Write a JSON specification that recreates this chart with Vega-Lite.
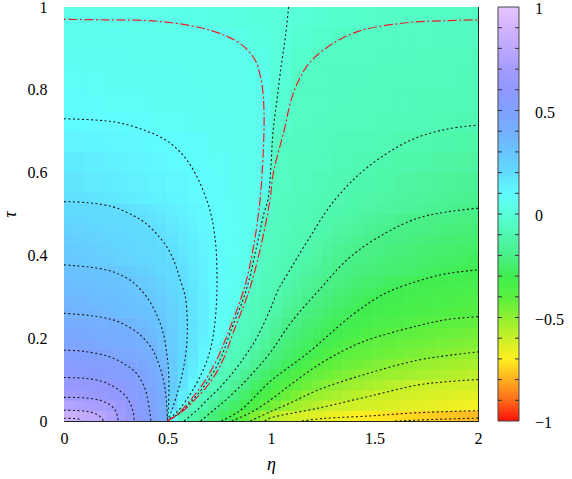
{
"$schema": "https://vega.github.io/schema/vega-lite/v6.json",
"autosize": {"type": "none"},
"padding": {"left": 64, "top": 7, "right": 94, "bottom": 58},
"width": 414, "height": 414,
"config": {
  "font": "Liberation Serif",
  "view": {"stroke": null},
  "axis": {"domainColor": "#222", "domainWidth": 1, "tickColor": "#222", "tickWidth": 1, "labelFont": "Liberation Serif", "labelFontSize": 16, "labelColor": "#000", "titleFont": "Liberation Serif", "titleFontSize": 18, "titleFontWeight": "normal", "titleFontStyle": "italic", "titleColor": "#000", "grid": false, "labelOverlap": false, "labelFlush": false}
},
"layer": [
 {
  "layer": [
    {
      "data": {"values": "x,y,v\n0.05,0.575,0.172\n0.15,0.575,0.16\n0.25,0.575,0.148\n0.35,0.575,0.136\n0.45,0.575,0.124\n0.55,0.575,0.112\n0.65,0.575,0.1\n0.75,0.575,0.084\n0.85,0.575,0.067\n0.95,0.575,0.05\n1.05,0.575,-0.056\n1.15,0.575,-0.069\n1.25,0.575,-0.082\n1.35,0.575,-0.095\n1.45,0.575,-0.107\n1.55,0.575,-0.118\n1.65,0.575,-0.13\n1.75,0.575,-0.141\n1.85,0.575,-0.153\n1.95,0.575,-0.164\n0.05,0.625,0.149\n0.15,0.625,0.14\n0.25,0.625,0.131\n0.35,0.625,0.122\n0.45,0.625,0.113\n0.55,0.625,0.104\n0.65,0.625,0.093\n0.75,0.625,0.079\n0.85,0.625,0.065\n0.95,0.625,0.051\n1.05,0.625,-0.053\n1.15,0.625,-0.063\n1.25,0.625,-0.073\n1.35,0.625,-0.084\n1.45,0.625,-0.094\n1.55,0.625,-0.104\n1.65,0.625,-0.113\n1.75,0.625,-0.122\n1.85,0.625,-0.131\n1.95,0.625,-0.14\n0.05,0.675,0.125\n0.15,0.675,0.12\n0.25,0.675,0.114\n0.35,0.675,0.108\n0.45,0.675,0.103\n0.55,0.675,0.095\n0.65,0.675,0.084\n0.75,0.675,0.073\n0.85,0.675,0.062\n0.95,0.675,0.052\n1.05,0.675,-0.05\n1.15,0.675,-0.058\n1.25,0.675,-0.066\n1.35,0.675,-0.074\n1.45,0.675,-0.083\n1.55,0.675,-0.091\n1.65,0.675,-0.099\n1.75,0.675,-0.105\n1.85,0.675,-0.111\n1.95,0.675,-0.117\n0.05,0.725,0.102\n0.15,0.725,0.1\n0.25,0.725,0.096\n0.35,0.725,0.09\n0.45,0.725,0.083\n0.55,0.725,0.077\n0.65,0.725,0.07\n0.75,0.725,0.064\n0.85,0.725,0.057\n0.95,0.725,0.051\n1.05,0.725,-0.029\n1.15,0.725,-0.054\n1.25,0.725,-0.059\n1.35,0.725,-0.064\n1.45,0.725,-0.069\n1.55,0.725,-0.074\n1.65,0.725,-0.08\n1.75,0.725,-0.085\n1.85,0.725,-0.09\n1.95,0.725,-0.095\n0.05,0.775,0.089\n0.15,0.775,0.085\n0.25,0.775,0.08\n0.35,0.775,0.076\n0.45,0.775,0.072\n0.55,0.775,0.068\n0.65,0.775,0.063\n0.75,0.775,0.059\n0.85,0.775,0.055\n0.95,0.775,0.051\n1.05,0.775,-0.015\n1.15,0.775,-0.052\n1.25,0.775,-0.056\n1.35,0.775,-0.061\n1.45,0.775,-0.065\n1.55,0.775,-0.069\n1.65,0.775,-0.073\n1.75,0.775,-0.077\n1.85,0.775,-0.082\n1.95,0.775,-0.086\n0.05,0.825,0.078\n0.15,0.825,0.075\n0.25,0.825,0.072\n0.35,0.825,0.069\n0.45,0.825,0.066\n0.55,0.825,0.063\n0.65,0.825,0.059\n0.75,0.825,0.056\n0.85,0.825,0.053\n0.95,0.825,0.05\n1.05,0.825,-0.005\n1.15,0.825,-0.05\n1.25,0.825,-0.054\n1.35,0.825,-0.057\n1.45,0.825,-0.06\n1.55,0.825,-0.063\n1.65,0.825,-0.067\n1.75,0.825,-0.07\n1.85,0.825,-0.073\n1.95,0.825,-0.077\n0.05,0.875,0.069\n0.15,0.875,0.067\n0.25,0.875,0.065\n0.35,0.875,0.062\n0.45,0.875,0.06\n0.55,0.875,0.058\n0.65,0.875,0.056\n0.75,0.875,0.054\n0.85,0.875,0.052\n0.95,0.875,0.039\n1.05,0.875,0.002\n1.15,0.875,-0.031\n1.25,0.875,-0.051\n1.35,0.875,-0.053\n1.45,0.875,-0.056\n1.55,0.875,-0.058\n1.65,0.875,-0.06\n1.75,0.875,-0.063\n1.85,0.875,-0.065\n1.95,0.875,-0.068\n0.05,0.925,0.058\n0.15,0.925,0.057\n0.25,0.925,0.056\n0.35,0.925,0.055\n0.45,0.925,0.054\n0.55,0.925,0.053\n0.65,0.925,0.052\n0.75,0.925,0.051\n0.85,0.925,0.039\n0.95,0.925,0.021\n1.05,0.925,0.003\n1.15,0.925,-0.014\n1.25,0.925,-0.031\n1.35,0.925,-0.048\n1.45,0.925,-0.051\n1.55,0.925,-0.053\n1.65,0.925,-0.054\n1.75,0.925,-0.055\n1.85,0.925,-0.057\n1.95,0.925,-0.058\n0.05,0.975,0.049\n0.15,0.975,0.048\n0.25,0.975,0.047\n0.35,0.975,0.046\n0.45,0.975,0.045\n0.55,0.975,0.043\n0.65,0.975,0.038\n0.75,0.975,0.03\n0.85,0.975,0.021\n0.95,0.975,0.012\n1.05,0.975,0.003\n1.15,0.975,-0.008\n1.25,0.975,-0.018\n1.35,0.975,-0.027\n1.45,0.975,-0.035\n1.55,0.975,-0.041\n1.65,0.975,-0.045\n1.75,0.975,-0.047\n1.85,0.975,-0.048\n1.95,0.975,-0.049", "format": {"type": "csv", "parse": {"x": "number", "y": "number", "v": "number"}}},
      "mark": {"type": "square", "size": 456, "opacity": 1, "clip": true},
      "encoding": {
        "x": {"field": "x", "type": "quantitative", "scale": {"domain": [0, 2], "nice": false, "zero": false}, "axis": null},
        "y": {"field": "y", "type": "quantitative", "scale": {"domain": [0, 1], "nice": false, "zero": false}, "axis": null},
        "color": {"field": "v", "type": "quantitative", "legend": null,
          "scale": {"interpolate": "rgb", "domain": [-1, -0.9, -0.8, -0.7, -0.6, -0.5, -0.4, -0.3, -0.2, -0.1, 0, 0.1, 0.2, 0.3, 0.4, 0.5, 0.6, 0.7, 0.8, 0.9, 1], "range": ["#ff1008", "#ff6a18", "#ffb020", "#fff020", "#c8f028", "#90f030", "#58f040", "#40ee50", "#48f088", "#50f8b0", "#58ffd8", "#60fcff", "#60dcff", "#68c4ff", "#74b0ff", "#80a0ff", "#9098ff", "#a49cff", "#bca8ff", "#d4b4ff", "#e4c4ff"]}}
      }
    },
    {
      "data": {"values": "x,y,v\n0.025,0.0125,0.859\n0.075,0.0125,0.838\n0.125,0.0125,0.818\n0.175,0.0125,0.792\n0.225,0.0125,0.737\n0.275,0.0125,0.678\n0.325,0.0125,0.614\n0.375,0.0125,0.552\n0.425,0.0125,0.49\n0.475,0.0125,0.429\n0.525,0.0125,0.1\n0.575,0.0125,-0.075\n0.625,0.0125,-0.119\n0.675,0.0125,-0.181\n0.725,0.0125,-0.23\n0.775,0.0125,-0.274\n0.825,0.0125,-0.333\n0.875,0.0125,-0.41\n0.925,0.0125,-0.467\n0.975,0.0125,-0.522\n1.025,0.0125,-0.576\n1.075,0.0125,-0.606\n1.125,0.0125,-0.618\n1.175,0.0125,-0.629\n1.225,0.0125,-0.645\n1.275,0.0125,-0.658\n1.325,0.0125,-0.67\n1.375,0.0125,-0.682\n1.425,0.0125,-0.694\n1.475,0.0125,-0.705\n1.525,0.0125,-0.714\n1.575,0.0125,-0.722\n1.625,0.0125,-0.73\n1.675,0.0125,-0.737\n1.725,0.0125,-0.745\n1.775,0.0125,-0.752\n1.825,0.0125,-0.76\n1.875,0.0125,-0.767\n1.925,0.0125,-0.775\n1.975,0.0125,-0.782\n0.025,0.0375,0.756\n0.075,0.0375,0.742\n0.125,0.0375,0.728\n0.175,0.0375,0.714\n0.225,0.0375,0.7\n0.275,0.0375,0.648\n0.325,0.0375,0.597\n0.375,0.0375,0.539\n0.425,0.0375,0.482\n0.475,0.0375,0.425\n0.525,0.0375,0.213\n0.575,0.0375,0.077\n0.625,0.0375,-0.068\n0.675,0.0375,-0.112\n0.725,0.0375,-0.171\n0.775,0.0375,-0.22\n0.825,0.0375,-0.26\n0.875,0.0375,-0.3\n0.925,0.0375,-0.362\n0.975,0.0375,-0.418\n1.025,0.0375,-0.462\n1.075,0.0375,-0.504\n1.125,0.0375,-0.527\n1.175,0.0375,-0.55\n1.225,0.0375,-0.573\n1.275,0.0375,-0.596\n1.325,0.0375,-0.605\n1.375,0.0375,-0.611\n1.425,0.0375,-0.616\n1.475,0.0375,-0.622\n1.525,0.0375,-0.628\n1.575,0.0375,-0.634\n1.625,0.0375,-0.64\n1.675,0.0375,-0.645\n1.725,0.0375,-0.651\n1.775,0.0375,-0.657\n1.825,0.0375,-0.663\n1.875,0.0375,-0.669\n1.925,0.0375,-0.674\n1.975,0.0375,-0.68\n0.025,0.0625,0.681\n0.075,0.0625,0.666\n0.125,0.0625,0.651\n0.175,0.0625,0.636\n0.225,0.0625,0.62\n0.275,0.0625,0.605\n0.325,0.0625,0.569\n0.375,0.0625,0.522\n0.425,0.0625,0.472\n0.475,0.0625,0.418\n0.525,0.0625,0.251\n0.575,0.0625,0.15\n0.625,0.0625,0.059\n0.675,0.0625,-0.069\n0.725,0.0625,-0.111\n0.775,0.0625,-0.165\n0.825,0.0625,-0.215\n0.875,0.0625,-0.256\n0.925,0.0625,-0.298\n0.975,0.0625,-0.347\n1.025,0.0625,-0.397\n1.075,0.0625,-0.432\n1.125,0.0625,-0.466\n1.175,0.0625,-0.501\n1.225,0.0625,-0.516\n1.275,0.0625,-0.531\n1.325,0.0625,-0.546\n1.375,0.0625,-0.562\n1.425,0.0625,-0.577\n1.475,0.0625,-0.593\n1.525,0.0625,-0.603\n1.575,0.0625,-0.608\n1.625,0.0625,-0.613\n1.675,0.0625,-0.618\n1.725,0.0625,-0.623\n1.775,0.0625,-0.628\n1.825,0.0625,-0.633\n1.875,0.0625,-0.638\n1.925,0.0625,-0.643\n1.975,0.0625,-0.648\n0.025,0.0875,0.632\n0.075,0.0875,0.624\n0.125,0.0875,0.616\n0.175,0.0875,0.607\n0.225,0.0875,0.597\n0.275,0.0875,0.566\n0.325,0.0875,0.535\n0.375,0.0875,0.504\n0.425,0.0875,0.457\n0.475,0.0875,0.409\n0.525,0.0875,0.265\n0.575,0.0875,0.178\n0.625,0.0875,0.113\n0.675,0.0875,0.018\n0.725,0.0875,-0.072\n0.775,0.0875,-0.111\n0.825,0.0875,-0.164\n0.875,0.0875,-0.213\n0.925,0.0875,-0.255\n0.975,0.0875,-0.297\n1.025,0.0875,-0.34\n1.075,0.0875,-0.384\n1.125,0.0875,-0.415\n1.175,0.0875,-0.439\n1.225,0.0875,-0.463\n1.275,0.0875,-0.487\n1.325,0.0875,-0.505\n1.375,0.0875,-0.518\n1.425,0.0875,-0.53\n1.475,0.0875,-0.542\n1.525,0.0875,-0.555\n1.575,0.0875,-0.567\n1.625,0.0875,-0.579\n1.675,0.0875,-0.591\n1.725,0.0875,-0.601\n1.775,0.0875,-0.604\n1.825,0.0875,-0.607\n1.875,0.0875,-0.61\n1.925,0.0875,-0.613\n1.975,0.0875,-0.616\n0.025,0.1125,0.583\n0.075,0.1125,0.57\n0.125,0.1125,0.557\n0.175,0.1125,0.545\n0.225,0.1125,0.532\n0.275,0.1125,0.519\n0.325,0.1125,0.506\n0.375,0.1125,0.482\n0.425,0.1125,0.44\n0.475,0.1125,0.394\n0.525,0.1125,0.27\n0.575,0.1125,0.195\n0.625,0.1125,0.14\n0.675,0.1125,0.082\n0.725,0.1125,-0.037\n0.775,0.1125,-0.079\n0.825,0.1125,-0.118\n0.875,0.1125,-0.169\n0.925,0.1125,-0.214\n0.975,0.1125,-0.25\n1.025,0.1125,-0.286\n1.075,0.1125,-0.325\n1.125,0.1125,-0.367\n1.175,0.1125,-0.404\n1.225,0.1125,-0.421\n1.275,0.1125,-0.438\n1.325,0.1125,-0.456\n1.375,0.1125,-0.473\n1.425,0.1125,-0.49\n1.475,0.1125,-0.503\n1.525,0.1125,-0.511\n1.575,0.1125,-0.518\n1.625,0.1125,-0.525\n1.675,0.1125,-0.533\n1.725,0.1125,-0.54\n1.775,0.1125,-0.548\n1.825,0.1125,-0.555\n1.875,0.1125,-0.562\n1.925,0.1125,-0.57\n1.975,0.1125,-0.577\n0.025,0.1375,0.547\n0.075,0.1375,0.538\n0.125,0.1375,0.529\n0.175,0.1375,0.521\n0.225,0.1375,0.512\n0.275,0.1375,0.504\n0.325,0.1375,0.481\n0.375,0.1375,0.451\n0.425,0.1375,0.42\n0.475,0.1375,0.361\n0.525,0.1375,0.271\n0.575,0.1375,0.206\n0.625,0.1375,0.156\n0.675,0.1375,0.107\n0.725,0.1375,0.052\n0.775,0.1375,-0.06\n0.825,0.1375,-0.088\n0.875,0.1375,-0.126\n0.925,0.1375,-0.175\n0.975,0.1375,-0.215\n1.025,0.1375,-0.245\n1.075,0.1375,-0.275\n1.125,0.1375,-0.308\n1.175,0.1375,-0.349\n1.225,0.1375,-0.391\n1.275,0.1375,-0.41\n1.325,0.1375,-0.422\n1.375,0.1375,-0.435\n1.425,0.1375,-0.447\n1.475,0.1375,-0.46\n1.525,0.1375,-0.472\n1.575,0.1375,-0.485\n1.625,0.1375,-0.497\n1.675,0.1375,-0.505\n1.725,0.1375,-0.511\n1.775,0.1375,-0.517\n1.825,0.1375,-0.523\n1.875,0.1375,-0.529\n1.925,0.1375,-0.535\n1.975,0.1375,-0.541\n0.025,0.1625,0.511\n0.075,0.1625,0.507\n0.125,0.1625,0.502\n0.175,0.1625,0.492\n0.225,0.1625,0.474\n0.275,0.1625,0.457\n0.325,0.1625,0.439\n0.375,0.1625,0.422\n0.425,0.1625,0.404\n0.475,0.1625,0.337\n0.525,0.1625,0.269\n0.575,0.1625,0.214\n0.625,0.1625,0.167\n0.675,0.1625,0.123\n0.725,0.1625,0.076\n0.775,0.1625,-0.033\n0.825,0.1625,-0.072\n0.875,0.1625,-0.097\n0.925,0.1625,-0.139\n0.975,0.1625,-0.184\n1.025,0.1625,-0.217\n1.075,0.1625,-0.243\n1.125,0.1625,-0.269\n1.175,0.1625,-0.295\n1.225,0.1625,-0.328\n1.275,0.1625,-0.362\n1.325,0.1625,-0.397\n1.375,0.1625,-0.408\n1.425,0.1625,-0.416\n1.475,0.1625,-0.424\n1.525,0.1625,-0.433\n1.575,0.1625,-0.441\n1.625,0.1625,-0.449\n1.675,0.1625,-0.458\n1.725,0.1625,-0.466\n1.775,0.1625,-0.475\n1.825,0.1625,-0.483\n1.875,0.1625,-0.492\n1.925,0.1625,-0.5\n1.975,0.1625,-0.505\n0.025,0.1875,0.476\n0.075,0.1875,0.466\n0.125,0.1875,0.456\n0.175,0.1875,0.446\n0.225,0.1875,0.436\n0.275,0.1875,0.426\n0.325,0.1875,0.416\n0.375,0.1875,0.406\n0.425,0.1875,0.374\n0.475,0.1875,0.315\n0.525,0.1875,0.264\n0.575,0.1875,0.216\n0.625,0.1875,0.172\n0.675,0.1875,0.13\n0.725,0.1875,0.089\n0.775,0.1875,0.037\n0.825,0.1875,-0.061\n0.875,0.1875,-0.083\n0.925,0.1875,-0.11\n0.975,0.1875,-0.155\n1.025,0.1875,-0.2\n1.075,0.1875,-0.223\n1.125,0.1875,-0.246\n1.175,0.1875,-0.269\n1.225,0.1875,-0.293\n1.275,0.1875,-0.318\n1.325,0.1875,-0.344\n1.375,0.1875,-0.371\n1.425,0.1875,-0.397\n1.475,0.1875,-0.406\n1.525,0.1875,-0.413\n1.575,0.1875,-0.419\n1.625,0.1875,-0.426\n1.675,0.1875,-0.433\n1.725,0.1875,-0.439\n1.775,0.1875,-0.446\n1.825,0.1875,-0.453\n1.875,0.1875,-0.459\n1.925,0.1875,-0.466\n1.975,0.1875,-0.473\n0.025,0.2125,0.449\n0.075,0.2125,0.442\n0.125,0.2125,0.434\n0.175,0.2125,0.427\n0.225,0.2125,0.419\n0.275,0.2125,0.412\n0.325,0.2125,0.404\n0.375,0.2125,0.383\n0.425,0.2125,0.343\n0.475,0.2125,0.302\n0.525,0.2125,0.26\n0.575,0.2125,0.217\n0.625,0.2125,0.176\n0.675,0.2125,0.137\n0.725,0.2125,0.098\n0.775,0.2125,0.062\n0.825,0.2125,-0.053\n0.875,0.2125,-0.073\n0.925,0.2125,-0.093\n0.975,0.2125,-0.128\n1.025,0.2125,-0.171\n1.075,0.2125,-0.207\n1.125,0.2125,-0.228\n1.175,0.2125,-0.249\n1.225,0.2125,-0.27\n1.275,0.2125,-0.291\n1.325,0.2125,-0.31\n1.375,0.2125,-0.327\n1.425,0.2125,-0.344\n1.475,0.2125,-0.361\n1.525,0.2125,-0.379\n1.575,0.2125,-0.396\n1.625,0.2125,-0.404\n1.675,0.2125,-0.41\n1.725,0.2125,-0.415\n1.775,0.2125,-0.421\n1.825,0.2125,-0.426\n1.875,0.2125,-0.432\n1.925,0.2125,-0.438\n1.975,0.2125,-0.443\n0.025,0.2375,0.423\n0.075,0.2375,0.418\n0.125,0.2375,0.413\n0.175,0.2375,0.409\n0.225,0.2375,0.404\n0.275,0.2375,0.395\n0.325,0.2375,0.37\n0.375,0.2375,0.344\n0.425,0.2375,0.318\n0.475,0.2375,0.29\n0.525,0.2375,0.252\n0.575,0.2375,0.215\n0.625,0.2375,0.177\n0.675,0.2375,0.14\n0.725,0.2375,0.102\n0.775,0.2375,0.071\n0.825,0.2375,-0.013\n0.875,0.2375,-0.065\n0.925,0.2375,-0.084\n0.975,0.2375,-0.107\n1.025,0.2375,-0.148\n1.075,0.2375,-0.188\n1.125,0.2375,-0.213\n1.175,0.2375,-0.232\n1.225,0.2375,-0.252\n1.275,0.2375,-0.271\n1.325,0.2375,-0.29\n1.375,0.2375,-0.305\n1.425,0.2375,-0.317\n1.475,0.2375,-0.329\n1.525,0.2375,-0.34\n1.575,0.2375,-0.352\n1.625,0.2375,-0.364\n1.675,0.2375,-0.375\n1.725,0.2375,-0.387\n1.775,0.2375,-0.399\n1.825,0.2375,-0.403\n1.875,0.2375,-0.407\n1.925,0.2375,-0.411\n1.975,0.2375,-0.415\n0.025,0.2625,0.392\n0.075,0.2625,0.381\n0.125,0.2625,0.37\n0.175,0.2625,0.359\n0.225,0.2625,0.348\n0.275,0.2625,0.337\n0.325,0.2625,0.326\n0.375,0.2625,0.315\n0.425,0.2625,0.304\n0.475,0.2625,0.278\n0.525,0.2625,0.245\n0.575,0.2625,0.212\n0.625,0.2625,0.177\n0.675,0.2625,0.141\n0.725,0.2625,0.105\n0.775,0.2625,0.078\n0.825,0.2625,0.052\n0.875,0.2625,-0.057\n0.925,0.2625,-0.076\n0.975,0.2625,-0.094\n1.025,0.2625,-0.123\n1.075,0.2625,-0.157\n1.125,0.2625,-0.19\n1.175,0.2625,-0.213\n1.225,0.2625,-0.231\n1.275,0.2625,-0.249\n1.325,0.2625,-0.268\n1.375,0.2625,-0.286\n1.425,0.2625,-0.302\n1.475,0.2625,-0.31\n1.525,0.2625,-0.317\n1.575,0.2625,-0.325\n1.625,0.2625,-0.333\n1.675,0.2625,-0.341\n1.725,0.2625,-0.348\n1.775,0.2625,-0.356\n1.825,0.2625,-0.364\n1.875,0.2625,-0.372\n1.925,0.2625,-0.379\n1.975,0.2625,-0.387\n0.025,0.2875,0.371\n0.075,0.2875,0.362\n0.125,0.2875,0.353\n0.175,0.2875,0.344\n0.225,0.2875,0.335\n0.275,0.2875,0.325\n0.325,0.2875,0.316\n0.375,0.2875,0.307\n0.425,0.2875,0.293\n0.475,0.2875,0.265\n0.525,0.2875,0.236\n0.575,0.2875,0.207\n0.625,0.2875,0.175\n0.675,0.2875,0.142\n0.725,0.2875,0.108\n0.775,0.2875,0.083\n0.825,0.2875,0.06\n0.875,0.2875,-0.051\n0.925,0.2875,-0.069\n0.975,0.2875,-0.087\n1.025,0.2875,-0.108\n1.075,0.2875,-0.137\n1.125,0.2875,-0.167\n1.175,0.2875,-0.196\n1.225,0.2875,-0.214\n1.275,0.2875,-0.23\n1.325,0.2875,-0.247\n1.375,0.2875,-0.263\n1.425,0.2875,-0.279\n1.475,0.2875,-0.296\n1.525,0.2875,-0.305\n1.575,0.2875,-0.312\n1.625,0.2875,-0.318\n1.675,0.2875,-0.325\n1.725,0.2875,-0.332\n1.775,0.2875,-0.339\n1.825,0.2875,-0.345\n1.875,0.2875,-0.352\n1.925,0.2875,-0.359\n1.975,0.2875,-0.366\n0.025,0.3125,0.351\n0.075,0.3125,0.344\n0.125,0.3125,0.337\n0.175,0.3125,0.329\n0.225,0.3125,0.322\n0.275,0.3125,0.315\n0.325,0.3125,0.307\n0.375,0.3125,0.3\n0.425,0.3125,0.276\n0.475,0.3125,0.251\n0.525,0.3125,0.227\n0.575,0.3125,0.202\n0.625,0.3125,0.171\n0.675,0.3125,0.14\n0.725,0.3125,0.108\n0.775,0.3125,0.085\n0.825,0.3125,0.066\n0.875,0.3125,0.008\n0.925,0.3125,-0.062\n0.975,0.3125,-0.08\n1.025,0.3125,-0.098\n1.075,0.3125,-0.123\n1.125,0.3125,-0.148\n1.175,0.3125,-0.174\n1.225,0.3125,-0.199\n1.275,0.3125,-0.214\n1.325,0.3125,-0.228\n1.375,0.3125,-0.243\n1.425,0.3125,-0.257\n1.475,0.3125,-0.272\n1.525,0.3125,-0.286\n1.575,0.3125,-0.3\n1.625,0.3125,-0.306\n1.675,0.3125,-0.311\n1.725,0.3125,-0.316\n1.775,0.3125,-0.322\n1.825,0.3125,-0.327\n1.875,0.3125,-0.333\n1.925,0.3125,-0.338\n1.975,0.3125,-0.344\n0.025,0.3375,0.331\n0.075,0.3375,0.326\n0.125,0.3375,0.321\n0.175,0.3375,0.316\n0.225,0.3375,0.31\n0.275,0.3375,0.305\n0.325,0.3375,0.3\n0.375,0.3375,0.279\n0.425,0.3375,0.258\n0.475,0.3375,0.237\n0.525,0.3375,0.216\n0.575,0.3375,0.194\n0.625,0.3375,0.165\n0.675,0.3375,0.137\n0.725,0.3375,0.108\n0.775,0.3375,0.087\n0.825,0.3375,0.074\n0.875,0.3375,0.054\n0.925,0.3375,-0.056\n0.975,0.3375,-0.073\n1.025,0.3375,-0.089\n1.075,0.3375,-0.108\n1.125,0.3375,-0.131\n1.175,0.3375,-0.154\n1.225,0.3375,-0.178\n1.275,0.3375,-0.201\n1.325,0.3375,-0.212\n1.375,0.3375,-0.224\n1.425,0.3375,-0.235\n1.475,0.3375,-0.247\n1.525,0.3375,-0.258\n1.575,0.3375,-0.27\n1.625,0.3375,-0.281\n1.675,0.3375,-0.293\n1.725,0.3375,-0.301\n1.775,0.3375,-0.306\n1.825,0.3375,-0.31\n1.875,0.3375,-0.314\n1.925,0.3375,-0.318\n1.975,0.3375,-0.322\n0.025,0.3625,0.311\n0.075,0.3625,0.308\n0.125,0.3625,0.305\n0.175,0.3625,0.302\n0.225,0.3625,0.298\n0.275,0.3625,0.282\n0.325,0.3625,0.267\n0.375,0.3625,0.252\n0.425,0.3625,0.237\n0.475,0.3625,0.222\n0.525,0.3625,0.207\n0.575,0.3625,0.186\n0.625,0.3625,0.16\n0.675,0.3625,0.133\n0.725,0.3625,0.107\n0.775,0.3625,0.088\n0.825,0.3625,0.071\n0.875,0.3625,0.055\n0.925,0.3625,-0.051\n0.975,0.3625,-0.066\n1.025,0.3625,-0.081\n1.075,0.3625,-0.096\n1.125,0.3625,-0.116\n1.175,0.3625,-0.137\n1.225,0.3625,-0.159\n1.275,0.3625,-0.181\n1.325,0.3625,-0.203\n1.375,0.3625,-0.209\n1.425,0.3625,-0.217\n1.475,0.3625,-0.224\n1.525,0.3625,-0.232\n1.575,0.3625,-0.24\n1.625,0.3625,-0.248\n1.675,0.3625,-0.256\n1.725,0.3625,-0.264\n1.775,0.3625,-0.271\n1.825,0.3625,-0.279\n1.875,0.3625,-0.287\n1.925,0.3625,-0.295\n1.975,0.3625,-0.301\n0.025,0.3875,0.289\n0.075,0.3875,0.28\n0.125,0.3875,0.271\n0.175,0.3875,0.262\n0.225,0.3875,0.253\n0.275,0.3875,0.245\n0.325,0.3875,0.236\n0.375,0.3875,0.227\n0.425,0.3875,0.218\n0.475,0.3875,0.209\n0.525,0.3875,0.201\n0.575,0.3875,0.178\n0.625,0.3875,0.154\n0.675,0.3875,0.13\n0.725,0.3875,0.105\n0.775,0.3875,0.088\n0.825,0.3875,0.073\n0.875,0.3875,0.058\n0.925,0.3875,-0.029\n0.975,0.3875,-0.061\n1.025,0.3875,-0.075\n1.075,0.3875,-0.088\n1.125,0.3875,-0.102\n1.175,0.3875,-0.123\n1.225,0.3875,-0.143\n1.275,0.3875,-0.163\n1.325,0.3875,-0.183\n1.375,0.3875,-0.201\n1.425,0.3875,-0.208\n1.475,0.3875,-0.214\n1.525,0.3875,-0.221\n1.575,0.3875,-0.228\n1.625,0.3875,-0.235\n1.675,0.3875,-0.241\n1.725,0.3875,-0.248\n1.775,0.3875,-0.255\n1.825,0.3875,-0.262\n1.875,0.3875,-0.268\n1.925,0.3875,-0.275\n1.975,0.3875,-0.282\n0.025,0.4125,0.273\n0.075,0.4125,0.266\n0.125,0.4125,0.258\n0.175,0.4125,0.25\n0.225,0.4125,0.243\n0.275,0.4125,0.235\n0.325,0.4125,0.228\n0.375,0.4125,0.22\n0.425,0.4125,0.212\n0.475,0.4125,0.205\n0.525,0.4125,0.192\n0.575,0.4125,0.17\n0.625,0.4125,0.148\n0.675,0.4125,0.126\n0.725,0.4125,0.104\n0.775,0.4125,0.088\n0.825,0.4125,0.074\n0.875,0.4125,0.06\n0.925,0.4125,0\n0.975,0.4125,-0.057\n1.025,0.4125,-0.069\n1.075,0.4125,-0.082\n1.125,0.4125,-0.094\n1.175,0.4125,-0.109\n1.225,0.4125,-0.127\n1.275,0.4125,-0.145\n1.325,0.4125,-0.162\n1.375,0.4125,-0.18\n1.425,0.4125,-0.198\n1.475,0.4125,-0.205\n1.525,0.4125,-0.211\n1.575,0.4125,-0.218\n1.625,0.4125,-0.224\n1.675,0.4125,-0.23\n1.725,0.4125,-0.236\n1.775,0.4125,-0.242\n1.825,0.4125,-0.248\n1.875,0.4125,-0.254\n1.925,0.4125,-0.26\n1.975,0.4125,-0.266\n0.025,0.4375,0.257\n0.075,0.4375,0.25\n0.125,0.4375,0.244\n0.175,0.4375,0.238\n0.225,0.4375,0.231\n0.275,0.4375,0.225\n0.325,0.4375,0.219\n0.375,0.4375,0.212\n0.425,0.4375,0.206\n0.475,0.4375,0.198\n0.525,0.4375,0.179\n0.575,0.4375,0.16\n0.625,0.4375,0.141\n0.675,0.4375,0.122\n0.725,0.4375,0.102\n0.775,0.4375,0.088\n0.825,0.4375,0.075\n0.875,0.4375,0.062\n0.925,0.4375,0.036\n0.975,0.4375,-0.054\n1.025,0.4375,-0.065\n1.075,0.4375,-0.077\n1.125,0.4375,-0.088\n1.175,0.4375,-0.099\n1.225,0.4375,-0.114\n1.275,0.4375,-0.129\n1.325,0.4375,-0.145\n1.375,0.4375,-0.16\n1.425,0.4375,-0.175\n1.475,0.4375,-0.191\n1.525,0.4375,-0.202\n1.575,0.4375,-0.207\n1.625,0.4375,-0.212\n1.675,0.4375,-0.218\n1.725,0.4375,-0.223\n1.775,0.4375,-0.228\n1.825,0.4375,-0.233\n1.875,0.4375,-0.238\n1.925,0.4375,-0.243\n1.975,0.4375,-0.248\n0.025,0.4625,0.241\n0.075,0.4625,0.236\n0.125,0.4625,0.231\n0.175,0.4625,0.226\n0.225,0.4625,0.221\n0.275,0.4625,0.215\n0.325,0.4625,0.21\n0.375,0.4625,0.205\n0.425,0.4625,0.2\n0.475,0.4625,0.183\n0.525,0.4625,0.166\n0.575,0.4625,0.149\n0.625,0.4625,0.132\n0.675,0.4625,0.115\n0.725,0.4625,0.099\n0.775,0.4625,0.087\n0.825,0.4625,0.075\n0.875,0.4625,0.063\n0.925,0.4625,0.05\n0.975,0.4625,-0.052\n1.025,0.4625,-0.062\n1.075,0.4625,-0.072\n1.125,0.4625,-0.082\n1.175,0.4625,-0.092\n1.225,0.4625,-0.103\n1.275,0.4625,-0.116\n1.325,0.4625,-0.13\n1.375,0.4625,-0.143\n1.425,0.4625,-0.156\n1.475,0.4625,-0.169\n1.525,0.4625,-0.183\n1.575,0.4625,-0.196\n1.625,0.4625,-0.203\n1.675,0.4625,-0.207\n1.725,0.4625,-0.211\n1.775,0.4625,-0.215\n1.825,0.4625,-0.219\n1.875,0.4625,-0.223\n1.925,0.4625,-0.228\n1.975,0.4625,-0.233\n0.025,0.4875,0.226\n0.075,0.4875,0.222\n0.125,0.4875,0.218\n0.175,0.4875,0.214\n0.225,0.4875,0.211\n0.275,0.4875,0.207\n0.325,0.4875,0.203\n0.375,0.4875,0.196\n0.425,0.4875,0.182\n0.475,0.4875,0.168\n0.525,0.4875,0.153\n0.575,0.4875,0.139\n0.625,0.4875,0.125\n0.675,0.4875,0.111\n0.725,0.4875,0.097\n0.775,0.4875,0.086\n0.825,0.4875,0.075\n0.875,0.4875,0.063\n0.925,0.4875,0.052\n0.975,0.4875,-0.044\n1.025,0.4875,-0.059\n1.075,0.4875,-0.068\n1.125,0.4875,-0.078\n1.175,0.4875,-0.087\n1.225,0.4875,-0.096\n1.275,0.4875,-0.106\n1.325,0.4875,-0.117\n1.375,0.4875,-0.128\n1.425,0.4875,-0.139\n1.475,0.4875,-0.15\n1.525,0.4875,-0.161\n1.575,0.4875,-0.172\n1.625,0.4875,-0.184\n1.675,0.4875,-0.195\n1.725,0.4875,-0.202\n1.775,0.4875,-0.205\n1.825,0.4875,-0.208\n1.875,0.4875,-0.21\n1.925,0.4875,-0.213\n1.975,0.4875,-0.216\n0.025,0.5125,0.21\n0.075,0.5125,0.208\n0.125,0.5125,0.206\n0.175,0.5125,0.204\n0.225,0.5125,0.202\n0.275,0.5125,0.196\n0.325,0.5125,0.185\n0.375,0.5125,0.174\n0.425,0.5125,0.163\n0.475,0.5125,0.151\n0.525,0.5125,0.14\n0.575,0.5125,0.129\n0.625,0.5125,0.117\n0.675,0.5125,0.106\n0.725,0.5125,0.095\n0.775,0.5125,0.085\n0.825,0.5125,0.074\n0.875,0.5125,0.064\n0.925,0.5125,0.053\n0.975,0.5125,-0.01\n1.025,0.5125,-0.057\n1.075,0.5125,-0.065\n1.125,0.5125,-0.074\n1.175,0.5125,-0.082\n1.225,0.5125,-0.091\n1.275,0.5125,-0.099\n1.325,0.5125,-0.107\n1.375,0.5125,-0.114\n1.425,0.5125,-0.121\n1.475,0.5125,-0.128\n1.525,0.5125,-0.135\n1.575,0.5125,-0.142\n1.625,0.5125,-0.15\n1.675,0.5125,-0.157\n1.725,0.5125,-0.164\n1.775,0.5125,-0.171\n1.825,0.5125,-0.178\n1.875,0.5125,-0.185\n1.925,0.5125,-0.193\n1.975,0.5125,-0.2\n0.025,0.5375,0.192\n0.075,0.5375,0.185\n0.125,0.5375,0.178\n0.175,0.5375,0.171\n0.225,0.5375,0.164\n0.275,0.5375,0.156\n0.325,0.5375,0.149\n0.375,0.5375,0.142\n0.425,0.5375,0.135\n0.475,0.5375,0.127\n0.525,0.5375,0.12\n0.575,0.5375,0.113\n0.625,0.5375,0.106\n0.675,0.5375,0.101\n0.725,0.5375,0.092\n0.775,0.5375,0.083\n0.825,0.5375,0.073\n0.875,0.5375,0.064\n0.925,0.5375,0.054\n0.975,0.5375,0.014\n1.025,0.5375,-0.055\n1.075,0.5375,-0.062\n1.125,0.5375,-0.07\n1.175,0.5375,-0.078\n1.225,0.5375,-0.086\n1.275,0.5375,-0.094\n1.325,0.5375,-0.101\n1.375,0.5375,-0.108\n1.425,0.5375,-0.114\n1.475,0.5375,-0.12\n1.525,0.5375,-0.126\n1.575,0.5375,-0.133\n1.625,0.5375,-0.139\n1.675,0.5375,-0.145\n1.725,0.5375,-0.151\n1.775,0.5375,-0.157\n1.825,0.5375,-0.164\n1.875,0.5375,-0.17\n1.925,0.5375,-0.176\n1.975,0.5375,-0.182", "format": {"type": "csv", "parse": {"x": "number", "y": "number", "v": "number"}}},
      "mark": {"type": "square", "size": 119, "opacity": 1, "clip": true},
      "encoding": {
        "x": {"field": "x", "type": "quantitative",
              "axis": {"orient": "bottom", "values": [0, 0.25, 0.5, 0.75, 1, 1.25, 1.5, 1.75, 2], "format": "~g", "labelExpr": "datum.value % 0.5 == 0 ? datum.label : ''", "tickSize": -6, "labelPadding": 15, "title": "η", "titlePadding": 9}},
        "y": {"field": "y", "type": "quantitative",
              "axis": {"orient": "left", "values": [0, 0.1, 0.2, 0.3, 0.4, 0.5, 0.6, 0.7, 0.8, 0.9, 1], "format": "~g", "labelExpr": "round(datum.value * 10) % 2 == 0 ? datum.label : ''", "tickSize": -6, "labelPadding": 23, "title": "τ", "titlePadding": 8}},
        "color": {"field": "v", "type": "quantitative", "legend": null}
      }
    },
    {
      "data": {"values": "c,i,x,y\np9,0,0,0.0065\np9,1,0.05,0.006\np9,2,0.075,0.004\np9,3,0.087,0\np8,0,0,0.026\np8,1,0.1,0.024\np8,2,0.14,0.02\np8,3,0.165,0.014\np8,4,0.185,0.006\np8,5,0.19,0\np7,0,0,0.057\np7,1,0.1,0.056\np7,2,0.174,0.05\np7,3,0.22,0.04\np7,4,0.246,0.027\np7,5,0.258,0.012\np7,6,0.262,0\np6,0,0,0.105\np6,1,0.1,0.103\np6,2,0.19,0.095\np6,3,0.25,0.08\np6,4,0.3,0.059\np6,5,0.322,0.04\np6,6,0.335,0.02\np6,7,0.34,0\np5,0,0,0.171\np5,1,0.1,0.168\np5,2,0.22,0.155\np5,3,0.3,0.135\np5,4,0.35,0.115\np5,5,0.39,0.08\np5,6,0.405,0.05\np5,7,0.415,0.02\np5,8,0.42,0\np4,0,0,0.26\np4,1,0.12,0.255\np4,2,0.232,0.245\np4,3,0.31,0.228\np4,4,0.377,0.204\np4,5,0.43,0.17\np4,6,0.457,0.139\np4,7,0.48,0.1\np4,8,0.49,0.07\np4,9,0.497,0.035\np4,10,0.5,0\np3,0,0,0.377\np3,1,0.12,0.372\np3,2,0.232,0.361\np3,3,0.32,0.34\np3,4,0.393,0.304\np3,5,0.44,0.265\np3,6,0.475,0.22\np3,7,0.495,0.17\np3,8,0.505,0.12\np3,9,0.507,0.07\np3,10,0.504,0.03\np3,11,0.5,0\np2,0,0,0.53\np2,1,0.12,0.527\np2,2,0.232,0.518\np2,3,0.32,0.5\np2,4,0.393,0.478\np2,5,0.46,0.445\np2,6,0.506,0.413\np2,7,0.54,0.375\np2,8,0.562,0.34\np2,9,0.586,0.3\np2,10,0.595,0.25\np2,11,0.595,0.2\np2,12,0.585,0.15\np2,13,0.565,0.1\np2,14,0.54,0.055\np2,15,0.52,0.025\np2,16,0.5,0\np1,0,0,0.73\np1,1,0.15,0.727\np1,2,0.27,0.72\np1,3,0.4,0.7\np1,4,0.49,0.679\np1,5,0.57,0.645\np1,6,0.634,0.598\np1,7,0.7,0.518\np1,8,0.731,0.437\np1,9,0.739,0.35\np1,10,0.737,0.29\np1,11,0.725,0.22\np1,12,0.7,0.16\np1,13,0.66,0.11\np1,14,0.61,0.065\np1,15,0.56,0.03\np1,16,0.52,0.01\np1,17,0.5,0\nz0,0,0.5,0\nz0,1,0.56,0.02\nz0,2,0.62,0.05\nz0,3,0.7,0.1\nz0,4,0.76,0.155\nz0,5,0.8,0.21\nz0,6,0.88,0.316\nz0,7,0.93,0.42\nz0,8,0.965,0.5\nz0,9,0.985,0.534\nz0,10,1,0.62\nz0,11,1.01,0.7\nz0,12,1.03,0.78\nz0,13,1.05,0.86\nz0,14,1.07,0.93\nz0,15,1.085,1\nn1,0,0.58,0\nn1,1,0.64,0.025\nn1,2,0.7,0.055\nn1,3,0.77,0.09\nn1,4,0.85,0.139\nn1,5,0.93,0.2\nn1,6,0.995,0.268\nn1,7,1.034,0.316\nn1,8,1.082,0.357\nn1,9,1.179,0.437\nn1,10,1.308,0.534\nn1,11,1.469,0.614\nn1,12,1.678,0.679\nn1,13,1.85,0.705\nn1,14,2,0.715\nn2,0,0.66,0\nn2,1,0.72,0.025\nn2,2,0.78,0.05\nn2,3,0.85,0.083\nn2,4,0.92,0.12\nn2,5,0.995,0.164\nn2,6,1.1,0.24\nn2,7,1.23,0.315\nn2,8,1.38,0.395\nn2,9,1.55,0.453\nn2,10,1.71,0.49\nn2,11,1.85,0.505\nn2,12,2,0.514\nn3,0,0.76,0\nn3,1,0.85,0.025\nn3,2,0.995,0.095\nn3,3,1.18,0.165\nn3,4,1.39,0.255\nn3,5,1.55,0.308\nn3,6,1.71,0.338\nn3,7,1.85,0.356\nn3,8,2,0.365\nn4,0,0.81,0\nn4,1,0.9,0.02\nn4,2,0.995,0.05\nn4,3,1.1,0.09\nn4,4,1.227,0.135\nn4,5,1.35,0.17\nn4,6,1.469,0.196\nn4,7,1.71,0.23\nn4,8,1.85,0.245\nn4,9,2,0.252\nn5,0,0.9,0\nn5,1,0.995,0.022\nn5,2,1.1,0.045\nn5,3,1.227,0.075\nn5,4,1.469,0.115\nn5,5,1.71,0.147\nn5,6,1.85,0.158\nn5,7,2,0.167\nn6,0,0.97,0\nn6,1,0.995,0.007\nn6,2,1.227,0.031\nn6,3,1.469,0.059\nn6,4,1.71,0.087\nn6,5,1.85,0.095\nn6,6,2,0.1\nn7,0,1.15,0\nn7,1,1.25,0.006\nn7,2,1.469,0.012\nn7,3,1.71,0.02\nn7,4,2,0.025\nn8,0,1.6,0\nn8,1,1.8,0.004\nn8,2,2,0.007", "format": {"type": "csv", "parse": {"i": "number", "x": "number", "y": "number"}}},
      "mark": {"type": "line", "color": "#1a1a1a", "strokeWidth": 1.1, "strokeDash": [2, 2.5], "interpolate": "catmull-rom", "clip": true},
      "encoding": {
        "x": {"field": "x", "type": "quantitative", "axis": {"orient": "top", "values": [0, 0.25, 0.5, 0.75, 1, 1.25, 1.5, 1.75, 2], "labels": false, "tickSize": -6, "title": null}},
        "y": {"field": "y", "type": "quantitative", "axis": {"orient": "right", "values": [0, 0.1, 0.2, 0.3, 0.4, 0.5, 0.6, 0.7, 0.8, 0.9, 1], "labels": false, "tickSize": -6, "title": null}},
        "detail": {"field": "c"},
        "order": {"field": "i", "type": "quantitative"}
      }
    },
    {
      "data": {"values": "c,i,x,y\nr1,0,0.5,0\nr1,1,0.555,0.02\nr1,2,0.61,0.05\nr1,3,0.685,0.1\nr1,4,0.745,0.155\nr1,5,0.79,0.21\nr1,6,0.868,0.316\nr1,7,0.915,0.42\nr1,8,0.947,0.534\nr1,9,0.963,0.655\nr1,10,0.966,0.751\nr1,11,0.955,0.816\nr1,12,0.923,0.872\nr1,13,0.85,0.912\nr1,14,0.705,0.944\nr1,15,0.464,0.965\nr1,16,0.2,0.969\nr1,17,0,0.97\nr2,0,0.5,0\nr2,1,0.565,0.02\nr2,2,0.63,0.05\nr2,3,0.715,0.1\nr2,4,0.775,0.155\nr2,5,0.815,0.21\nr2,6,0.895,0.316\nr2,7,0.95,0.42\nr2,8,0.995,0.534\nr2,9,1.011,0.598\nr2,10,1.06,0.695\nr2,11,1.108,0.792\nr2,12,1.172,0.856\nr2,13,1.253,0.896\nr2,14,1.414,0.94\nr2,15,1.655,0.962\nr2,16,1.85,0.967\nr2,17,2,0.969", "format": {"type": "csv", "parse": {"i": "number", "x": "number", "y": "number"}}},
      "mark": {"type": "line", "color": "#e8202a", "strokeWidth": 1.2, "strokeDash": [9, 2.5, 2, 2.5], "interpolate": "catmull-rom", "clip": true},
      "encoding": {
        "x": {"field": "x", "type": "quantitative", "axis": null},
        "y": {"field": "y", "type": "quantitative", "axis": null},
        "detail": {"field": "c"},
        "order": {"field": "i", "type": "quantitative"}
      }
    }
  ],
  "resolve": {"axis": {"x": "independent", "y": "independent"}}
 },
 {
  "data": {"values": [{"lo": -1, "hi": 1}]},
  "mark": {"type": "rect", "stroke": "#444", "strokeWidth": 1, "fill": {"gradient": "linear", "x1": 0, "y1": 1, "x2": 0, "y2": 0, "stops": [
        {"offset": 0, "color": "#ff1008"}, {"offset": 0.05, "color": "#ff6a18"}, {"offset": 0.1, "color": "#ffb020"}, {"offset": 0.15, "color": "#fff020"}, {"offset": 0.2, "color": "#c8f028"}, {"offset": 0.25, "color": "#90f030"}, {"offset": 0.3, "color": "#58f040"}, {"offset": 0.35, "color": "#40ee50"}, {"offset": 0.4, "color": "#48f088"}, {"offset": 0.45, "color": "#50f8b0"}, {"offset": 0.5, "color": "#58ffd8"}, {"offset": 0.55, "color": "#60fcff"}, {"offset": 0.6, "color": "#60dcff"}, {"offset": 0.65, "color": "#68c4ff"}, {"offset": 0.7, "color": "#74b0ff"}, {"offset": 0.75, "color": "#80a0ff"}, {"offset": 0.8, "color": "#9098ff"}, {"offset": 0.85, "color": "#a49cff"}, {"offset": 0.9, "color": "#bca8ff"}, {"offset": 0.95, "color": "#d4b4ff"}, {"offset": 1, "color": "#e4c4ff"}]}},
  "encoding": {
    "x": {"datum": 2.0966, "type": "quantitative", "scale": {"domain": [0, 2], "nice": false, "zero": false}, "axis": null},
    "x2": {"datum": 2.1981},
    "y": {"field": "lo", "type": "quantitative", "scale": {"domain": [-1, 1], "nice": false, "zero": false}, "axis": null},
    "y2": {"field": "hi"}
  }
 },
 {
  "data": {"values": [{"v": -0.9}, {"v": -0.8}, {"v": -0.7}, {"v": -0.6}, {"v": -0.5}, {"v": -0.4}, {"v": -0.3}, {"v": -0.2}, {"v": -0.1}, {"v": 0}, {"v": 0.1}, {"v": 0.2}, {"v": 0.3}, {"v": 0.4}, {"v": 0.5}, {"v": 0.6}, {"v": 0.7}, {"v": 0.8}, {"v": 0.9}]},
  "layer": [
    {"mark": {"type": "rule", "color": "#333", "strokeWidth": 1},
     "encoding": {"x": {"datum": 2.0966, "type": "quantitative", "scale": {"domain": [0, 2], "nice": false, "zero": false}, "axis": null}, "x2": {"datum": 2.1159}, "y": {"field": "v", "type": "quantitative", "scale": {"domain": [-1, 1], "nice": false, "zero": false}, "axis": null}}},
    {"mark": {"type": "rule", "color": "#333", "strokeWidth": 1},
     "encoding": {"x": {"datum": 2.1787, "type": "quantitative", "axis": null}, "x2": {"datum": 2.1981}, "y": {"field": "v", "type": "quantitative", "axis": null}}}
  ]
 },
 {
  "data": {"values": [{"v": 1, "t": "1"}, {"v": 0.5, "t": "0.5"}, {"v": 0, "t": "0"}, {"v": -0.5, "t": "−0.5"}, {"v": -1, "t": "−1"}]},
  "mark": {"type": "text", "align": "left", "baseline": "middle", "dy": 2, "font": "Liberation Serif", "fontSize": 16, "color": "#000"},
  "encoding": {
    "x": {"datum": 2.2754, "type": "quantitative", "scale": {"domain": [0, 2], "nice": false, "zero": false}, "axis": null},
    "y": {"field": "v", "type": "quantitative", "scale": {"domain": [-1, 1], "nice": false, "zero": false}, "axis": null},
    "text": {"field": "t"}
  }
 }
],
"resolve": {"scale": {"x": "independent", "y": "independent"}, "axis": {"x": "independent", "y": "independent"}}
}
